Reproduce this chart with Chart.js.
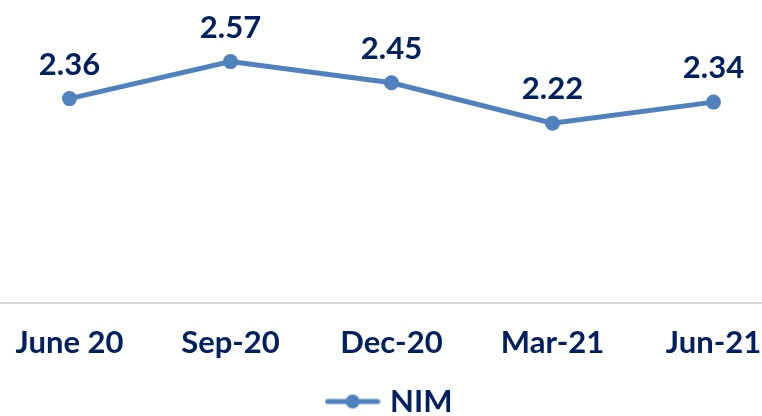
<!DOCTYPE html>
<html>
<head>
<meta charset="utf-8">
<script src="https://cdn.jsdelivr.net/npm/chart.js@4"></script>
<style>
  html, body { margin: 0; padding: 0; background: #fff; overflow: hidden; width: 762px; height: 416px; }
  #wrap { position: absolute; left: -11px; top: 0; width: 805px; height: 427px; }
</style>
</head>
<body>
<div id="wrap"><canvas id="grafica-nim"></canvas></div>
<script>
const etiquetas = ["June 20", "Sep-20", "Dec-20", "Mar-21", "Jun-21"];
const valoresNIM = [2.36, 2.57, 2.45, 2.22, 2.34];
const nombreSerie = "NIM";

const azul = "#4F81BD";
const navy = "#002060";
const fuente = "Lato, 'DejaVu Sans', sans-serif";

// marcador de leyenda: linea con punto en medio
const crearMarcador = () => {
  const c = document.createElement("canvas");
  c.width = 56;
  c.height = 16;
  const g = c.getContext("2d");
  g.strokeStyle = azul;
  g.lineWidth = 5;
  g.lineCap = "round";
  g.beginPath();
  g.moveTo(3, 8);
  g.lineTo(53, 8);
  g.stroke();
  g.fillStyle = azul;
  g.beginPath();
  g.arc(28, 8, 7, 0, Math.PI * 2);
  g.fill();
  return c;
};

const etiquetasDatos = {
  id: "etiquetasDatos",
  afterDatasetsDraw(chart) {
    const ctx = chart.ctx;
    const meta = chart.getDatasetMeta(0);
    ctx.save();
    ctx.font = `bold 31px ${fuente}`;
    ctx.fillStyle = navy;
    ctx.textAlign = "center";
    ctx.textBaseline = "alphabetic";
    meta.data.forEach((p, i) => {
      ctx.fillText(valoresNIM[i].toFixed(2), p.x, p.y - 24);
    });
    ctx.restore();
  }
};

new Chart(document.getElementById("grafica-nim"), {
  type: "line",
  data: {
    labels: etiquetas,
    datasets: [{
      label: nombreSerie,
      data: valoresNIM,
      borderColor: azul,
      backgroundColor: azul,
      borderWidth: 5,
      tension: 0,
      pointRadius: 7.5,
      pointStyle: "circle",
      pointBackgroundColor: azul,
      pointBorderWidth: 0
    }]
  },
  options: {
    responsive: true,
    maintainAspectRatio: false,
    animation: false,
    layout: { autoPadding: false, padding: 0 },
    scales: {
      x: {
        offset: true,
        grid: { display: false },
        border: { display: true, color: "#D9D9D9", width: 2 },
        ticks: {
          color: navy,
          font: { family: fuente, size: 31, weight: "bold" },
          padding: 14,
          maxRotation: 0,
          autoSkip: false
        }
      },
      y: {
        display: false,
        min: 1.2,
        max: 2.92
      }
    },
    plugins: {
      legend: {
        position: "bottom",
        labels: {
          color: navy,
          font: { family: fuente, size: 31, weight: "bold" },
          usePointStyle: true,
          pointStyleWidth: 44,
          generateLabels: () => [{
            text: nombreSerie,
            fillStyle: azul,
            strokeStyle: azul,
            lineWidth: 0,
            pointStyle: crearMarcador(),
            fontColor: navy,
            datasetIndex: 0
          }]
        }
      },
      tooltip: { enabled: false }
    }
  },
  plugins: [etiquetasDatos]
});
</script>
</body>
</html>
